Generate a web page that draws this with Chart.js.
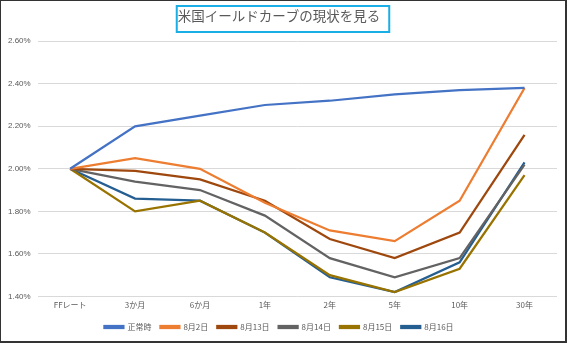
<!DOCTYPE html>
<html>
<head>
<meta charset="utf-8">
<script src="https://cdn.jsdelivr.net/npm/chart.js@4"></script>
<style>
  html, body { margin: 0; padding: 0; background: #fff; }
  #wrap {
    width: 567px; height: 343px; box-sizing: border-box;
    border-top: 1px solid #333; border-left: 1px solid #333;
    border-right: 2px solid #333; border-bottom: 2px solid #333;
    position: relative;
  }
</style>
</head>
<body>
<div id="wrap"><canvas id="yieldChart"></canvas></div>
<script>
// 年限
const terms = ['FFレート', '3か月', '6か月', '1年', '2年', '5年', '10年', '30年'];

// 各日の利回り (%)
const normal = [2.00, 2.20, 2.25, 2.30, 2.32, 2.35, 2.37, 2.38];
const aug02  = [2.00, 2.05, 2.00, 1.84, 1.71, 1.66, 1.85, 2.38];
const aug13  = [2.00, 1.99, 1.95, 1.85, 1.67, 1.58, 1.70, 2.16];
const aug14  = [2.00, 1.94, 1.90, 1.78, 1.58, 1.49, 1.58, 2.02];
const aug15  = [2.00, 1.80, 1.85, 1.70, 1.50, 1.42, 1.53, 1.97];
const aug16  = [2.00, 1.86, 1.85, 1.70, 1.49, 1.42, 1.56, 2.03];

const font = '"Noto Sans CJK JP", "Noto Sans", sans-serif';
const textColor = '#595959';

function line(label, data, color) {
  return {
    label: label,
    data: data,
    borderColor: color,
    backgroundColor: color,
    borderWidth: 2.25,
    pointRadius: 0,
    tension: 0
  };
}

// タイトルの枠線
const titleBox = {
  id: 'titleBox',
  afterDraw(chart) {
    const opts = chart.options.plugins.title;
    const ctx = chart.ctx;
    ctx.save();
    ctx.font = opts.font.size + 'px ' + font;
    const w = ctx.measureText(opts.text).width;
    const cx = chart.width / 2;
    ctx.strokeStyle = '#1AAEE6';
    ctx.lineWidth = 2;
    ctx.strokeRect(cx - w / 2 - 5, 5, w + 10, 26);
    ctx.restore();
  }
};

const ctx = document.getElementById('yieldChart').getContext('2d');
new Chart(ctx, {
  type: 'line',
  data: {
    labels: terms,
    datasets: [
      line('正常時', normal, '#4472C4'),
      line('8月2日', aug02, '#ED7D31'),
      line('8月13日', aug13, '#9E480E'),
      line('8月14日', aug14, '#636363'),
      line('8月15日', aug15, '#997300'),
      line('8月16日', aug16, '#255E91')
    ]
  },
  options: {
    responsive: true,
    maintainAspectRatio: false,
    animation: false,
    layout: { padding: { left: 0, right: 8, top: 0, bottom: 0 } },
    plugins: {
      title: {
        display: true,
        text: '米国イールドカーブの現状を見る',
        color: textColor,
        font: { family: font, size: 13.5, weight: 'normal' },
        padding: { top: 7, bottom: 17 }
      },
      legend: {
        position: 'bottom',
        maxHeight: 28,
        labels: {
          color: textColor,
          font: { family: font, size: 8 },
          boxWidth: 19,
          boxHeight: 2,
          padding: 9
        }
      },
      tooltip: { enabled: false }
    },
    scales: {
      x: {
        offset: true,
        grid: { display: false, drawTicks: false },
        border: { display: false },
        ticks: { color: textColor, font: { family: font, size: 8 }, padding: 4, maxRotation: 0 }
      },
      y: {
        min: 1.4,
        max: 2.6,
        grid: { color: '#D9D9D9', lineWidth: 1, drawTicks: false },
        border: { display: false },
        ticks: {
          stepSize: 0.2,
          color: textColor,
          font: { family: '"Liberation Sans", sans-serif', size: 8 },
          padding: 7,
          callback: v => v.toFixed(2) + '%'
        }
      }
    }
  },
  plugins: [titleBox]
});
</script>
</body>
</html>
